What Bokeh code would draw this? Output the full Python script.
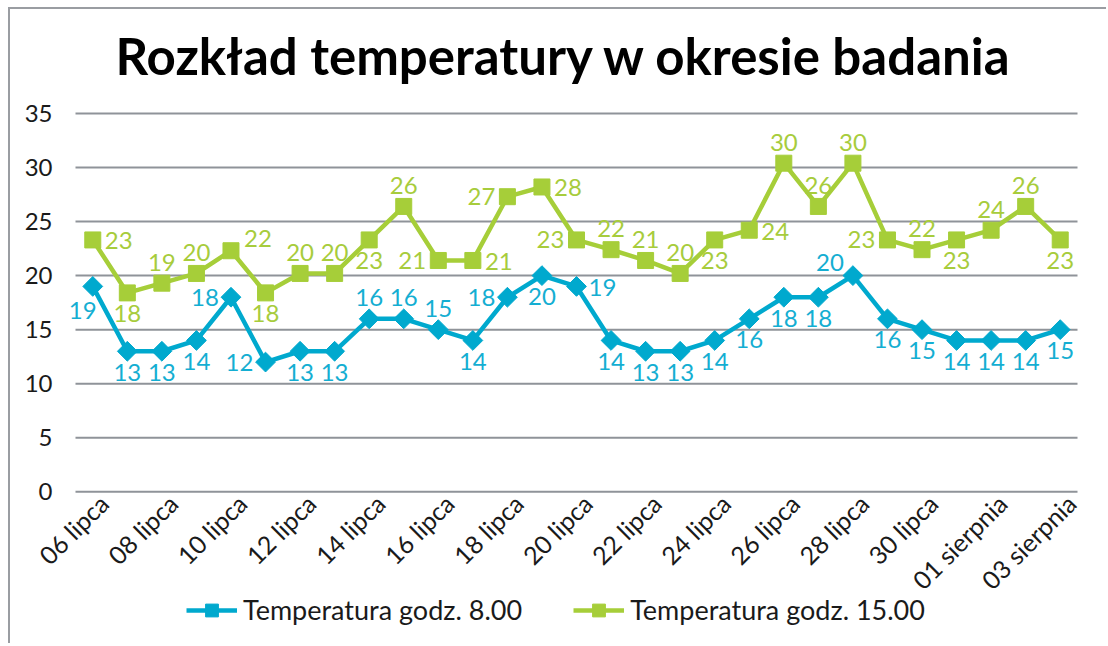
import math
from bokeh.plotting import figure
from bokeh.core.properties import value
from bokeh.models import ColumnDataSource, LabelSet, Legend, LegendItem, Range1d
from bokeh.embed import file_html
from bokeh.resources import INLINE

# ---------------- data ----------------
dates = ["06 lipca", "07 lipca", "08 lipca", "09 lipca", "10 lipca", "11 lipca",
         "12 lipca", "13 lipca", "14 lipca", "15 lipca", "16 lipca", "17 lipca",
         "18 lipca", "19 lipca", "20 lipca", "21 lipca", "22 lipca", "23 lipca",
         "24 lipca", "25 lipca", "26 lipca", "27 lipca", "28 lipca", "29 lipca",
         "30 lipca", "31 lipca", "01 sierpnia", "02 sierpnia", "03 sierpnia"]
temp_08 = [19, 13, 13, 14, 18, 12, 13, 13, 16, 16, 15, 14, 18, 20, 19,
           14, 13, 13, 14, 16, 18, 18, 20, 16, 15, 14, 14, 14, 15]
temp_15 = [23.3, 18.4, 19.3, 20.2, 22.3, 18.4, 20.2, 20.2, 23.3, 26.4, 21.4, 21.4,
           27.3, 28.2, 23.3, 22.4, 21.4, 20.2, 23.3, 24.2, 30.4, 26.4, 30.4, 23.3,
           22.4, 23.3, 24.2, 26.4, 23.3]
series_names = ["Temperatura godz. 8.00", "Temperatura godz. 15.00"]
title_text = "Rozkład temperatury w okresie badania"
y_ticks = [0, 5, 10, 15, 20, 25, 30, 35]

# label placement codes (styling, not data)
place_08 = ["bl", "b", "b", "b", "l", "l", "b", "b", "a", "a", "a", "b", "l", "b", "r",
            "b", "b", "b", "b", "b", "b", "b", "al", "b", "b", "b", "b", "b", "b"]
place_15 = ["r", "b", "a", "a", "ar", "b", "a", "a", "b", "a", "l", "r", "l", "r", "l",
            "a", "a", "a", "b", "r", "a", "a", "a", "l", "a", "b", "a", "a", "b"]
OFF = {"a": (0, 21), "b": (0, -21), "l": (-26, 0), "r": (26, -1),
       "ar": (27, 12), "bl": (-10, -24), "al": (-23, 13)}

BLUE = "#00A9CE"
BLUE_T = "#14AED2"
GREEN = "#A6CE39"
GREEN_T = "#A7CC3C"
GRID = "#8F9399"
TXT = "#1a1a1a"
FONT = "Lato"

# ---------------- layout (pixels) ----------------
W, H = 1098, 636
PLOT_L, PLOT_R = 65, 1067        # plotting area inside the canvas
FRAME_TOP = 88                    # room for the title
Y_TOP = 103                       # canvas y of the top grid value
ZERO_Y = 482                      # canvas y of value 0
n = len(dates)
x_unit = (PLOT_R - PLOT_L) / n
x_lo = -0.5 - PLOT_L / x_unit
x_hi = n - 0.5 + (W - PLOT_R) / x_unit
y_unit = (ZERO_Y - Y_TOP) / y_ticks[-1]
y_hi = y_ticks[-1] + (Y_TOP - FRAME_TOP) / y_unit
y_lo = -(H - ZERO_Y) / y_unit

idx = list(range(n))

p = figure(width=W, height=H, output_backend="svg", toolbar_location=None,
           x_range=Range1d(x_lo, x_hi), y_range=Range1d(y_lo, y_hi),
           x_axis_location=None, y_axis_location=None,
           min_border_left=0, min_border_right=0, min_border_top=FRAME_TOP,
           min_border_bottom=0)
p.styles = {"margin-left": "10px", "margin-top": "9px",
            "box-shadow": "-2px -2px 0px 0px #9A9DA2"}
p.outline_line_color = None
p.background_fill_color = "white"
p.border_fill_color = "white"
p.grid.visible = False

p.title.text = title_text
p.title.text_font = FONT
p.title.text_font_style = "bold"
p.title.text_font_size = "51px"
p.title.text_color = "black"
p.title.align = "left"
p.title.offset = 105
p.title.standoff = 26

# horizontal grid lines and value labels
p.segment(x0=-0.5, x1=n - 0.5, y0=y_ticks, y1=y_ticks, line_color=GRID, line_width=2)
ytick_src = ColumnDataSource(dict(x=[-0.5] * len(y_ticks), y=y_ticks,
                                  t=[str(v) for v in y_ticks]))
p.add_layout(LabelSet(x="x", y="y", text="t", source=ytick_src, x_offset=-23,
                      text_align="right", text_baseline="middle",
                      text_font=value(FONT), text_font_size=value("24px"),
                      text_color=TXT))

# category labels under the 0 line, every second day
cat_src = ColumnDataSource(dict(x=idx[::2], y=[0] * len(idx[::2]), t=dates[::2]))
p.add_layout(LabelSet(x="x", y="y", text="t", source=cat_src, angle=math.pi / 4,
                      x_offset=11, y_offset=-7, text_align="right", text_baseline="middle",
                      text_font=value(FONT), text_font_size=value("25px"),
                      text_color=TXT))

def series(vals, places, color, tcolor, size, angle):
    src = ColumnDataSource(dict(
        x=idx, y=vals, t=[str(int(round(v))) for v in vals],
        dx=[OFF[c][0] for c in places], dy=[OFF[c][1] for c in places]))
    ln = p.line("x", "y", source=src, line_color=color, line_width=4.5)
    sc = p.scatter("x", "y", source=src, marker="square", size=size, angle=angle,
                   fill_color=color, line_color=color)
    lbl = LabelSet(x="x", y="y", text="t", x_offset="dx", y_offset="dy", source=src,
                   text_align="center", text_baseline="middle", text_font=value(FONT),
                   text_font_size=value("24px"), text_color=tcolor)
    p.add_layout(lbl)
    return ln, sc

l1, s1 = series(temp_08, place_08, BLUE, BLUE_T, 14, math.pi / 4)
l2, s2 = series(temp_15, place_15, GREEN, GREEN_T, 16, 0)

legend = Legend(items=[LegendItem(label=series_names[0], renderers=[l1, s1]),
                       LegendItem(label=series_names[1], renderers=[l2, s2])],
                orientation="horizontal", location=(176, 19),
                glyph_width=51, glyph_height=32, label_standoff=6, spacing=51,
                padding=0, margin=0, border_line_color=None,
                background_fill_alpha=0,
                label_text_font=FONT, label_text_font_size="27px",
                label_text_color=TXT)
p.add_layout(legend)

open("out.html", "w").write(file_html(p, INLINE))
